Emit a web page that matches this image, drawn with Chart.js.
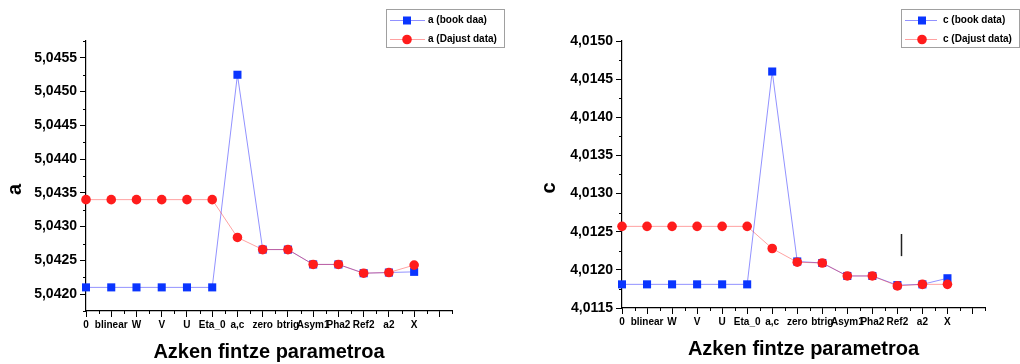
<!DOCTYPE html>
<html>
<head>
    <meta charset="utf-8">
    <title>Azken fintze parametroa</title>
    <script src="https://cdn.jsdelivr.net/npm/chart.js"></script>
    <style>
        body {
            margin: 0;
            background: #fff;
        }
        .wrap {
            display: flex;
            width: 1020px;
            height: 364px;
        }
        .box {
            position: relative;
            width: 510px;
            height: 364px;
        }
    </style>
</head>
<body>
    <div class="wrap">
        <div class="box"><canvas id="chartA" width="510" height="364"></canvas></div>
        <div class="box"><canvas id="chartC" width="510" height="364"></canvas></div>
    </div>

    <script>
        // last refined parameter (x axis categories)
        var params = ['0', 'blinear', 'W', 'V', 'U', 'Eta_0', 'a,c', 'zero', 'btrig', 'Asym1', 'Pha2', 'Ref2', 'a2', 'X'];

        // lattice parameter a
        var aBook   = [5.0421, 5.0421, 5.0421, 5.0421, 5.0421, 5.0421, 5.04525, 5.04266, 5.04266, 5.04244, 5.04244, 5.04231, 5.04232, 5.04233];
        var aDajust = [5.0434, 5.0434, 5.0434, 5.0434, 5.0434, 5.0434, 5.04284, 5.04266, 5.04266, 5.04244, 5.04244, 5.04231, 5.04232, 5.04243];

        // lattice parameter c
        var cBook   = [4.01181, 4.01181, 4.01181, 4.01181, 4.01181, 4.01181, 4.01460, 4.01211, 4.01209, 4.01192, 4.01192, 4.01180, 4.01181, 4.01189];
        var cDajust = [4.01257, 4.01257, 4.01257, 4.01257, 4.01257, 4.01257, 4.01228, 4.01210, 4.01209, 4.01192, 4.01192, 4.01179, 4.01181, 4.01181];

        // axis ranges (in 1e-5 units to keep decimals exact)
        var aRange = [504175, 504575];
        var cRange = [401150, 401500];

        var FONT = "'Liberation Sans', Arial, sans-serif";
        var BLUE = '#0a35ff';
        var BLUE_LINE = 'rgba(0, 0, 255, 0.43)';
        var RED = '#ff1c1c';
        var RED_LINE = 'rgba(255, 0, 0, 0.37)';

        function isMajorY(v) { return Math.round(v * 4000) % 2 === 0; }
        function isMajorX(v) { return Math.round(v * 2) % 2 === 0; }

        function toPoints(arr) {
            return arr.map(function(v, i) { return { x: i, y: v }; });
        }

        // short minor ticks between the labelled ones
        var minorTicks = {
            id: 'minorTicks',
            afterDraw: function(chart) {
                var ctx = chart.ctx;
                var xs = chart.scales.x, ys = chart.scales.y;
                ctx.save();
                ctx.strokeStyle = '#000';
                ctx.lineWidth = 1;
                ctx.beginPath();
                xs.ticks.forEach(function(t) {
                    if (!isMajorX(t.value)) {
                        var px = Math.round(xs.getPixelForValue(t.value)) + 0.5;
                        ctx.moveTo(px, xs.top);
                        ctx.lineTo(px, xs.top + 3);
                    }
                });
                ys.ticks.forEach(function(t) {
                    if (!isMajorY(t.value)) {
                        var py = Math.round(ys.getPixelForValue(t.value)) + 0.5;
                        ctx.moveTo(ys.right - 3, py);
                        ctx.lineTo(ys.right, py);
                    }
                });
                ctx.stroke();
                ctx.restore();
            }
        };

        // boxed legend in the top right corner
        var boxLegend = {
            id: 'boxLegend',
            afterDraw: function(chart, args, opts) {
                var ctx = chart.ctx;
                ctx.save();
                ctx.fillStyle = '#fff';
                ctx.fillRect(opts.x, opts.y, opts.w, opts.h);
                ctx.strokeStyle = '#a0a0a0';
                ctx.lineWidth = 1;
                ctx.strokeRect(opts.x + 0.5, opts.y + 0.5, opts.w, opts.h);
                chart.data.datasets.forEach(function(ds, i) {
                    var cy = opts.y + 11.5 + i * 19;
                    ctx.strokeStyle = ds.borderColor;
                    ctx.beginPath();
                    ctx.moveTo(opts.x + 4, cy);
                    ctx.lineTo(opts.x + opts.lineEnd, cy);
                    ctx.stroke();
                    ctx.fillStyle = ds.pointBackgroundColor;
                    var mx = opts.x + 21;
                    if (ds.pointStyle === 'rect') {
                        ctx.fillRect(mx - 4, cy - 4, 8, 8);
                    } else {
                        ctx.beginPath();
                        ctx.arc(mx, cy, 4.8, 0, Math.PI * 2);
                        ctx.fill();
                    }
                    ctx.fillStyle = '#000';
                    ctx.font = 'bold 10px ' + FONT;
                    ctx.textBaseline = 'middle';
                    ctx.fillText(ds.label, opts.x + 42, cy);
                });
                ctx.restore();
            }
        };

        // rotated y title, sitting a little below the middle like in the original
        var yTitle = {
            id: 'yTitle',
            afterDraw: function(chart, args, opts) {
                var ctx = chart.ctx;
                var area = chart.chartArea;
                ctx.save();
                ctx.translate(opts.x, area.top + (area.bottom - area.top) * 0.55);
                ctx.rotate(-Math.PI / 2);
                ctx.fillStyle = '#000';
                ctx.font = 'bold 20px ' + FONT;
                ctx.textAlign = 'center';
                ctx.textBaseline = 'middle';
                ctx.fillText(opts.text, 0, 0);
                ctx.restore();
            }
        };

        // stray cursor mark seen on the c plot
        var strayMark = {
            id: 'strayMark',
            afterDraw: function(chart, args, opts) {
                if (!opts.show) return;
                var ctx = chart.ctx;
                var px = Math.round(chart.scales.x.getPixelForValue(opts.x)) + 0.5;
                ctx.save();
                ctx.strokeStyle = '#222';
                ctx.lineWidth = 1.5;
                ctx.beginPath();
                ctx.moveTo(px, chart.scales.y.getPixelForValue(opts.y0));
                ctx.lineTo(px, chart.scales.y.getPixelForValue(opts.y1));
                ctx.stroke();
                ctx.restore();
            }
        };

        function makeChart(id, cfg) {
            var ctx = document.getElementById(id).getContext('2d');
            return new Chart(ctx, {
                type: 'line',
                data: {
                    datasets: [{
                        label: cfg.labels[0],
                        data: toPoints(cfg.book),
                        borderColor: BLUE_LINE,
                        backgroundColor: BLUE,
                        pointBackgroundColor: BLUE,
                        pointBorderWidth: 0,
                        pointStyle: 'rect',
                        pointRadius: 5.7,
                        borderWidth: 1,
                        fill: false,
                        clip: false,
                        order: 1
                    }, {
                        label: cfg.labels[1],
                        data: toPoints(cfg.dajust),
                        borderColor: RED_LINE,
                        backgroundColor: RED,
                        pointBackgroundColor: RED,
                        pointBorderWidth: 0,
                        pointStyle: 'circle',
                        pointRadius: 4.8,
                        borderWidth: 1,
                        fill: false,
                        clip: false,
                        order: 0
                    }]
                },
                plugins: [minorTicks, boxLegend, yTitle, strayMark],
                options: {
                    responsive: false,
                    animation: false,
                    devicePixelRatio: 1,
                    layout: {
                        padding: { top: 41, right: cfg.padRight, left: 0, bottom: 0 }
                    },
                    plugins: {
                        legend: { display: false },
                        tooltip: { enabled: false },
                        boxLegend: cfg.legend,
                        yTitle: { text: cfg.yText, x: cfg.yTitleX },
                        strayMark: cfg.mark || { show: false }
                    },
                    scales: {
                        x: {
                            type: 'linear',
                            min: 0,
                            max: 14.5,
                            afterBuildTicks: function(scale) {
                                var t = [];
                                for (var k = 0; k <= 29; k++) t.push({ value: k / 2 });
                                scale.ticks = t;
                            },
                            afterFit: function(scale) { scale.height = cfg.xHeight; },
                            border: { display: true, color: '#000', width: 1.2 },
                            grid: {
                                display: true,
                                drawOnChartArea: false,
                                drawTicks: true,
                                tickLength: 6,
                                tickColor: function(c) {
                                    return c.tick && isMajorX(c.tick.value) ? '#000' : 'rgba(0,0,0,0)';
                                }
                            },
                            ticks: {
                                autoSkip: false,
                                maxRotation: 0,
                                padding: 2,
                                color: '#000',
                                font: { family: FONT, size: 10, weight: 'bold' },
                                callback: function(v) {
                                    return (Number.isInteger(v) && params[v] !== undefined) ? params[v] : '';
                                }
                            },
                            title: {
                                display: true,
                                text: 'Azken fintze parametroa',
                                color: '#000',
                                font: { family: FONT, size: 20, weight: 'bold' },
                                padding: { top: 0, bottom: cfg.xTitlePad }
                            }
                        },
                        y: {
                            type: 'linear',
                            min: cfg.range[0] / 100000,
                            max: cfg.range[1] / 100000,
                            afterBuildTicks: function(scale) {
                                var t = [];
                                for (var v = cfg.range[0]; v <= cfg.range[1]; v += 25) t.push({ value: v / 100000 });
                                scale.ticks = t;
                            },
                            afterFit: function(scale) { scale.width = cfg.yWidth; },
                            border: { display: true, color: '#000', width: 1.2 },
                            grid: {
                                display: true,
                                drawOnChartArea: false,
                                drawTicks: true,
                                tickLength: 6,
                                tickColor: function(c) {
                                    return c.tick && isMajorY(c.tick.value) ? '#000' : 'rgba(0,0,0,0)';
                                }
                            },
                            ticks: {
                                autoSkip: false,
                                padding: 3,
                                color: '#000',
                                font: { family: FONT, size: 14, weight: 'bold' },
                                callback: function(v) {
                                    return isMajorY(v) ? v.toFixed(4).replace('.', ',') : '';
                                }
                            }
                        }
                    }
                }
            });
        }

        makeChart('chartA', {
            labels: ['a (book daa)', 'a (Dajust data)'],
            book: aBook,
            dajust: aDajust,
            range: aRange,
            yText: 'a',
            yTitleX: 15,
            yWidth: 86,
            xHeight: 53,
            xTitlePad: 0,
            padRight: 58,
            legend: { x: 386, y: 9, w: 118, h: 38, lineEnd: 39 }
        });

        makeChart('chartC', {
            labels: ['c (book data)', 'c (Dajust data)'],
            book: cBook,
            dajust: cDajust,
            range: cRange,
            yText: 'c',
            yTitleX: 39,
            yWidth: 112,
            xHeight: 56,
            xTitlePad: 3,
            padRight: 35,
            legend: { x: 391, y: 9, w: 118, h: 38, lineEnd: 36 },
            mark: { show: true, x: 11.15, y0: 4.01247, y1: 4.01218 }
        });
    </script>
</body>
</html>
